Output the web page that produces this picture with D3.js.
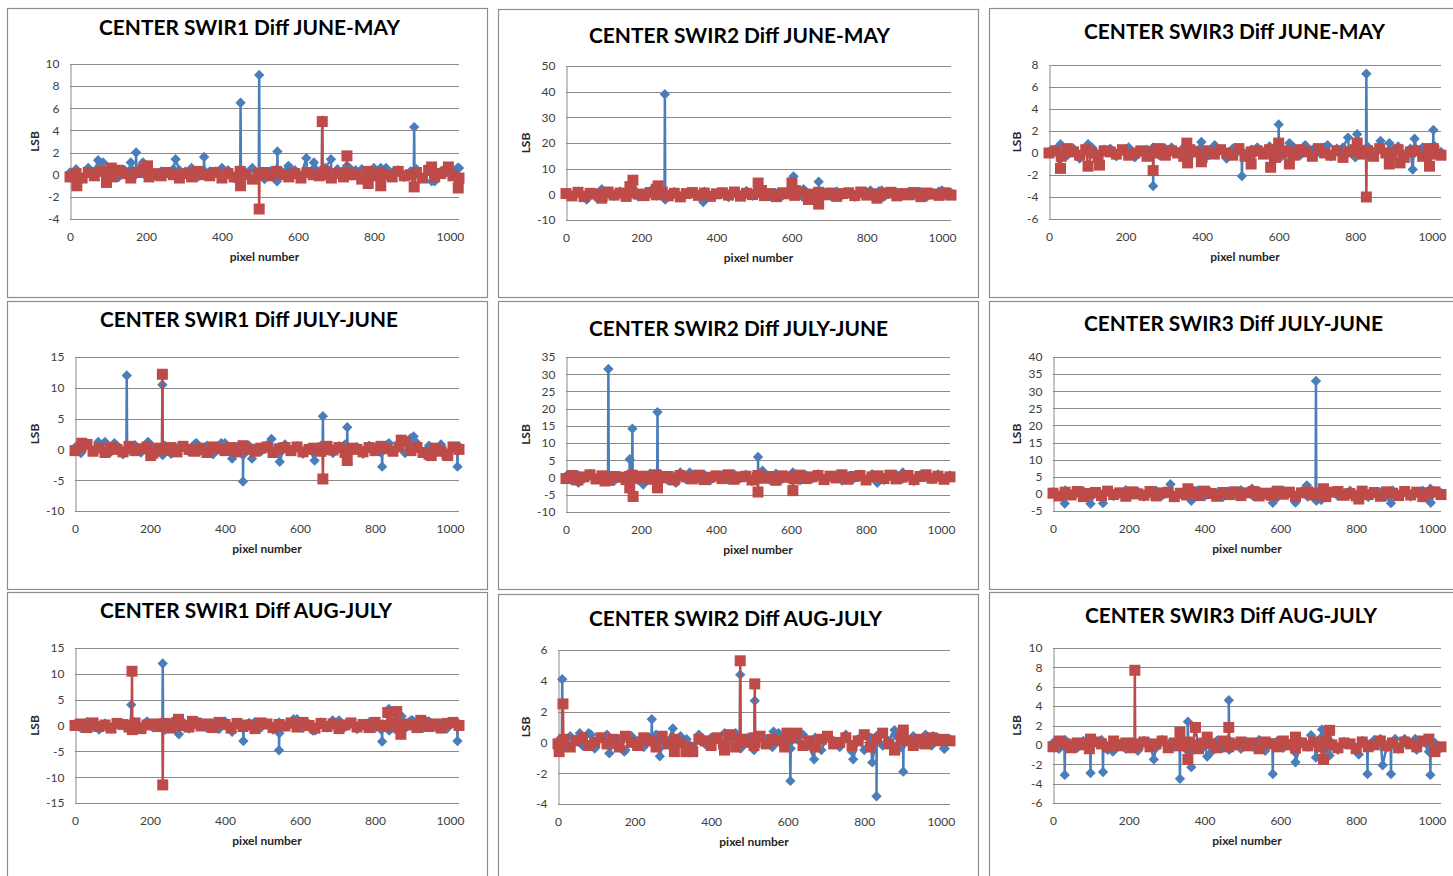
<!DOCTYPE html>
<html lang="en">
  <head>
    <title>CENTER SWIR Diff</title>
    <meta charset="utf-8" />
    <script src="https://d3js.org/d3.v7.min.js"></script>
    <style>
      body { margin: 0; background: #ffffff; }
    </style>
  </head>
  <body>
    <svg width="1453" height="876" xmlns="http://www.w3.org/2000/svg" id="target"></svg>
    <script>
        // x axis
        const xTicks = [0, 200, 400, 600, 800, 1000];
        const pixelMax = 1024;

        // y ticks per chart
        const yTicksSwir1JuneMay = [-4, -2, 0, 2, 4, 6, 8, 10];
        const yTicksSwir2JuneMay = [-10, 0, 10, 20, 30, 40, 50];
        const yTicksSwir3JuneMay = [-6, -4, -2, 0, 2, 4, 6, 8];
        const yTicksSwir1JulyJune = [-10, -5, 0, 5, 10, 15];
        const yTicksSwir2JulyJune = [-10, -5, 0, 5, 10, 15, 20, 25, 30, 35];
        const yTicksSwir3JulyJune = [-5, 0, 5, 10, 15, 20, 25, 30, 35, 40];
        const yTicksSwir1AugJuly = [-15, -10, -5, 0, 5, 10, 15];
        const yTicksSwir2AugJuly = [-4, -2, 0, 2, 4, 6];
        const yTicksSwir3AugJuly = [-6, -4, -2, 0, 2, 4, 6, 8, 10];

        // baseline values, one every 16 pixels (0..1024); peaks as [pixel, value]
        const swir1JuneMayBlue = [0.2,0.5,-0.3,0.6,0.3,0.4,0.1,0.2,-0.2,0.4,0.5,0.3,0.1,0.5,-0.1,0.3,0.2,0.5,0.4,0.3,0.6,-0.2,0.4,0.3,0.3,0.6,0.4,-0.3,0.5,0.2,0.6,0.1,-0.4,0.3,0.5,0.2,0.6,0.4,-0.1,0.3,0.5,0.3,0.6,0.2,0.5,-0.2,0.6,0.4,0.5,0.3,0.6,-0.3,0.6,0.2,0.4,-0.2,0.3,0.5,-0.3,0.4,-0.6,0.3,0.5,0.2,0.6];
        const swir1JuneMayBluePeaks = [[74,1.3],[87,1.1],[160,1.1],[173,0],[174,2.0],[175,0.1],[192,1.1],[278,1.4],[352,0],[353,1.6],[354,0.1],[448,0.2],[449,6.5],[450,0],[497,0.1],[498,9.0],[499,-0.1],[545,-0.6],[546,2.1],[547,0.2],[575,0.8],[622,1.5],[642,1.1],[663,0.2],[664,4.9],[665,0],[687,1.4],[729,0.8],[818,0.6],[905,0.1],[906,4.3],[907,0],[952,-0.6],[1020,0.6]];
        const swir1JuneMayRed = [-0.2,0.1,-0.3,0.2,-0.1,0.3,0,-0.2,0.4,0.1,-0.3,0.2,0.5,-0.2,0.1,-0.1,0.2,0,-0.3,0.1,-0.2,0.3,0,-0.1,0.2,-0.3,0.1,-0.2,0.3,0,-0.4,0.1,0.2,-0.1,0.3,0,-0.2,0.1,-0.3,0.2,0,-0.1,0.3,-0.3,0.1,-0.2,0.2,0,-0.4,0.3,-0.1,0.2,0,-0.2,0.3,-0.1,0,0.2,-0.3,0.4,-0.2,0.1,0.3,-0.1,-0.3];
        const swir1JuneMayRedPeaks = [[18,-1.0],[96,-0.7],[109,0.6],[204,0.8],[449,-1.0],[497,0],[498,-3.1],[499,0.1],[663,0],[664,4.8],[665,0.1],[728,0.2],[729,1.7],[730,0],[785,-0.8],[818,-1.0],[906,-1.1],[952,0.7],[996,0.7],[1022,-1.2]];

        const swir2JuneMayBlue = [0.5,-0.8,1.0,-0.5,0.3,-1.2,0.8,0.2,-0.6,1.1,-0.3,0.6,-0.9,0.4,1.2,-0.5,0.7,-0.2,0.9,-1.0,0.3,0.6,-0.4,1.0,-0.7,0.2,0.8,-1.1,0.5,-0.3,1.3,-0.6,0.4,0.9,-0.8,0.2,-0.5,1.0,0.6,-0.3,0.8,-0.9,0.3,0.5,-0.6,1.1,-0.2,0.7,-1.0,0.4,0.9,-0.4,1.2,-0.7,0.3,0.6,-0.5,1.0,-0.2,0.8,-0.9,0.4,1.1,-0.3,0.6];
        const swir2JuneMayBluePeaks = [[55,-2.0],[95,2.0],[262,-1.5],[263,39],[264,-2],[365,-3],[604,1],[605,7],[606,0],[632,2],[671,-1],[672,4.9],[673,0],[810,1.5],[840,1.5],[1000,1.5]];
        const swir2JuneMayRed = [0.3,-0.6,0.8,-0.9,0.4,0.2,-0.7,0.9,-0.3,0.5,-0.8,0.6,0.1,-0.5,0.7,-0.2,0.9,-0.6,0.4,-1.0,0.3,0.7,-0.4,0.5,-0.8,0.2,0.6,-0.3,0.9,-0.7,0.4,-0.1,0.8,-0.5,0.3,-0.9,0.6,0.2,-0.4,0.7,-0.6,0.1,0.8,-0.2,0.5,-0.8,0.3,0.6,-0.5,0.9,-0.3,0.2,-0.7,0.4,0.8,-0.6,0.3,-0.2,0.7,-0.9,0.5,0.1,-0.4,0.6,-0.3];
        const swir2JuneMayRedPeaks = [[95,-1.5],[170,3],[178,5.5],[240,2],[245,3.3],[511,4.4],[520,1.5],[601,4.4],[610,1.5],[645,-2],[672,-3.8],[827,-1.5]];

        const swir3JuneMayBlue = [0.1,0.3,0.6,-0.2,0.4,-0.5,0.2,0.5,-0.1,0.3,0.4,-0.3,0.2,0.5,-0.4,0.1,0.3,0.5,-0.2,0.4,0.5,0.1,0.5,-0.3,0.2,0.4,-0.2,0.6,0.3,-0.5,0.4,0.2,-0.1,0.3,0.5,0.1,0.4,0.6,-0.3,0.2,0.5,-0.2,0.6,0.3,0.1,0.5,-0.3,0.4,0.5,0.2,-0.4,0.3,0.6,0.1,0.5,-0.2,0.3,0.6,-0.1,0.4,0.3,0.5,-0.2,0.6,0.1];
        const swir3JuneMayBluePeaks = [[30,0.8],[102,0.8],[271,0],[272,-3.0],[273,0.2],[398,1.0],[433,0.7],[503,0.2],[504,-2.1],[505,0],[576,0.6],[599,0],[600,2.6],[601,0.2],[628,0.9],[669,0.7],[728,0.7],[781,1.4],[805,1.7],[828,0],[829,7.2],[830,0.3],[866,1.1],[889,0.9],[950,-1.5],[955,1.3],[1003,0.3],[1004,2.1],[1005,0]];
        const swir3JuneMayRed = [0,0.2,-0.3,0.4,0.1,-0.2,0.3,0,-0.4,0.2,0.1,-0.1,0.3,-0.2,0,0.2,-0.3,0.1,0.4,-0.2,0.2,0,-0.3,0.3,0.1,-0.4,0.2,-0.1,0.3,0,-0.2,0.4,-0.3,0.1,0.2,-0.1,0.3,-0.4,0,0.2,-0.2,0.3,0.1,-0.3,0.4,0,-0.2,0.2,-0.4,0.1,0.3,-0.1,0.2,-0.3,0.4,0,-0.2,0.3,-0.4,0.1,0.2,-0.3,0.4,-0.1,-0.2];
        const swir3JuneMayRedPeaks = [[30,-1.4],[102,-1.2],[132,-1.1],[271,0.1],[272,-1.6],[273,0],[360,0.9],[362,-0.9],[398,-0.8],[528,-1.0],[579,-1.3],[599,0.1],[600,0.9],[628,-1.0],[805,0.9],[828,0.1],[829,-4.0],[830,0],[889,-1.0],[917,-0.9],[994,-1.2],[1004,0.4]];

        const swir1JulyJuneBlue = [0.3,-0.6,0.8,-0.2,0.5,1.2,-0.4,0.6,-0.8,0.2,0.7,-0.5,1.0,0.4,-0.3,0.6,-0.7,0.2,0.5,-0.4,0.9,-0.2,0.6,-0.8,0.3,1.0,-0.5,0.4,-0.9,0.6,0.2,-0.3,0.7,-0.6,0.4,0.8,-0.2,0.5,-0.7,0.3,-0.4,0.6,0.2,-0.6,0.5,0.8,-0.3,0.4,-0.7,0.6,0.3,-0.5,0.7,-0.2,0.9,-0.6,0.4,1.0,-0.4,0.6,-0.3,0.8,-0.6,0.3,0.5];
        const swir1JulyJuneBluePeaks = [[62,1.2],[105,1.0],[137,0],[138,12.0],[139,-0.3],[195,1.2],[232,-0.8],[233,10.5],[234,-0.9],[324,1.0],[390,1.0],[419,-1.5],[447,0.2],[448,-5.2],[449,0],[472,-1.5],[524,1.7],[546,-2.0],[639,-1.8],[660,-0.5],[661,5.4],[662,0.3],[725,-0.3],[726,3.6],[727,0.4],[818,0.2],[819,-2.8],[820,0],[837,1.0],[895,1.8],[903,2.1],[1019,0.1],[1020,-2.8],[1021,0]];
        const swir1JulyJuneRed = [-0.2,0.4,0.8,-0.3,0.2,-0.5,0.3,0,-0.4,0.5,-0.2,0.1,0.4,-0.6,0.2,-0.1,0.3,-0.4,0.5,0,-0.3,0.2,-0.5,0.4,0.1,-0.2,0.3,-0.4,0.6,0,-0.3,0.2,0.4,-0.5,0.1,0.3,-0.2,0.4,-0.4,0,0.2,-0.3,0.5,-0.1,0.3,-0.5,0.2,0,-0.4,0.3,-0.2,0.5,0.1,-0.3,0.4,1.2,-0.2,0.3,-0.5,-0.8,0.2,-0.3,-0.8,0.4,0];
        const swir1JulyJuneRedPeaks = [[18,1.0],[202,-1.0],[232,0],[233,12.2],[234,0.1],[660,0.2],[661,-4.8],[662,0],[726,-1.8],[870,1.5],[950,-1.0],[994,-1.0]];

        const swir2JulyJuneBlue = [0.4,-0.9,0.7,-0.3,1.0,-0.6,0.2,0.8,-1.0,0.5,-0.2,0.9,-0.7,0.3,1.1,-0.4,0.6,-0.8,0.2,1.0,-0.5,0.7,-0.3,0.9,-0.9,0.4,0.6,-0.6,1.0,-0.2,0.8,-1.0,0.3,0.5,-0.7,1.1,-0.4,0.2,0.9,-0.8,0.6,-0.3,1.0,-0.5,0.4,0.7,-0.9,0.3,-0.2,0.8,-0.6,1.0,0.2,-0.7,0.5,0.9,-0.4,0.3,-1.0,0.7,0.2,-0.5,0.9,-0.3,0.6];
        const swir2JulyJuneBluePeaks = [[33,-1.5],[112,-0.5],[113,31.5],[114,0.3],[169,0.2],[170,5.3],[176,-0.5],[177,14.2],[178,0],[206,-2.0],[243,0.5],[244,19],[245,-0.3],[293,-1.5],[305,1.5],[330,1.5],[511,0.5],[512,6.0],[513,0.2],[524,2.0],[605,1.5],[830,-1.5],[898,1.5]];
        const swir2JulyJuneRed = [-0.3,0.6,-0.7,0.2,0.8,-0.4,0.5,-0.8,0.3,0.1,-0.6,0.7,-0.2,0.4,-0.5,0.8,-0.1,0.3,-0.7,0.6,0.2,-0.4,0.7,-0.6,0.1,0.5,-0.3,0.8,-0.5,0.2,0.4,-0.7,0.6,-0.2,0.3,-0.8,0.5,0.1,-0.4,0.7,-0.3,0.2,0.6,-0.6,0.4,-0.1,0.8,-0.5,0.3,0.6,-0.7,0.2,0.5,-0.3,0.7,-0.4,0.1,0.6,-0.6,0.3,0.8,-0.2,0.4,-0.5,0.2];
        const swir2JulyJuneRedPeaks = [[104,-1.0],[169,0.3],[170,-3.0],[171,0],[178,0.5],[179,-5.5],[180,0.2],[243,0],[244,-3.0],[245,0.3],[511,0],[512,-4.2],[513,0.4],[604,0],[605,-3.8],[606,0.2]];

        const swir3JulyJuneBlue = [0.5,-0.7,1.0,-0.4,0.3,0.8,-0.9,0.6,-0.2,0.9,-0.6,0.4,1.1,-0.3,0.7,-0.8,0.2,0.9,-0.5,0.6,-1.0,0.3,0.8,-0.4,1.0,-0.7,0.5,0.2,-0.9,0.7,-0.3,1.1,0.4,-0.6,0.8,-0.2,0.5,-1.0,0.9,0.3,-0.5,0.7,-0.8,0.4,1.0,-0.3,0.6,-0.6,0.2,0.9,-0.4,0.8,-0.9,0.5,0.3,-0.7,1.0,-0.2,0.6,-0.8,0.4,0.9,-0.5,0.7,0.3];
        const swir3JulyJuneBluePeaks = [[31,-2.8],[99,-2.9],[132,-2.7],[310,2.8],[365,-2.0],[525,1.5],[580,-2.6],[640,-2.5],[670,2.5],[693,-0.5],[694,33],[695,-2.0],[708,-1.8],[892,-2.7],[996,1.5],[997,-2.6]];
        const swir3JulyJuneRed = [0.2,-0.6,0.5,-0.3,0.7,-0.8,0.1,0.4,-0.5,0.8,-0.2,0.3,-0.7,0.6,0,-0.4,0.7,-0.6,0.3,0.5,-0.8,0.2,-0.3,0.6,-0.5,0.8,0.1,-0.7,0.4,-0.2,0.6,-0.5,0.3,0.7,-0.6,0.2,-0.4,0.8,-0.1,0.5,-0.7,0.3,0.6,-0.3,0.2,-0.8,0.5,0.7,-0.4,0.1,-0.6,0.8,-0.2,0.4,-0.7,0.6,0.2,-0.5,0.7,-0.3,0.5,-0.8,0.3,0.6,-0.2];
        const swir3JulyJuneRedPeaks = [[356,1.5],[714,1.5],[807,-1.5]];

        const swir1AugJulyBlue = [0.3,-0.5,0.7,-0.2,-0.8,0.4,-0.6,0.5,0.2,-0.7,0.6,-0.3,0.8,-0.4,0.2,-0.8,0.5,-0.2,0.7,-0.6,0.3,0.6,-0.5,0.4,-0.7,0.8,-0.3,0.2,-0.6,0.5,0.7,-0.4,0.3,-0.8,0.6,-0.2,0.4,1.2,-0.5,0.3,-1.0,0.6,-0.4,0.7,1.0,-0.3,0.5,-0.7,0.2,0.6,-0.5,-0.8,0.4,-0.3,0.7,-0.6,1.0,0.3,-0.5,0.8,-0.2,0.4,-0.6,0.5,0.3];
        const swir1AugJulyBluePeaks = [[149,0.2],[150,4.0],[151,-0.4],[233,-0.5],[234,12],[235,0.2],[277,-1.7],[419,-1.2],[448,0.2],[449,-3.0],[450,0],[543,-0.2],[544,-4.8],[545,-1.5],[583,1.2],[634,-1.0],[687,1.0],[818,0],[819,-3.1],[820,0.3],[836,0],[837,3.2],[838,-1.0],[871,1.8],[900,1.0],[1019,0],[1020,-3.0],[1021,0.2]];
        const swir1AugJulyRed = [0,0.3,-0.4,0.5,-0.2,0.1,-0.5,0.4,0.2,-0.3,0.5,-0.6,0.1,0.3,-0.2,0.4,-0.5,0.6,0,-0.3,0.5,-0.1,0.3,-0.4,0.6,0.2,-0.5,0.4,-0.2,0.1,-0.6,0.5,0.3,-0.4,0.2,-0.1,0.5,-0.3,0.6,0,-0.5,0.4,-0.2,0.3,-0.6,0.1,0.5,-0.3,0.2,-0.4,0.6,0,-0.2,0.4,-0.5,0.3,0.1,-0.4,0.6,-0.2,0.3,-0.5,0.4,0.6,0];
        const swir1AugJulyRedPeaks = [[151,0],[152,10.5],[153,-0.8],[233,0.1],[234,-11.5],[235,0.3],[276,1.2],[313,0.8],[834,2.5],[858,2.7],[869,-1.7],[922,1.0]];

        const swir2AugJulyBlue = [0.1,-0.3,0.4,0.2,-0.2,0.6,-0.4,0.3,0.5,-0.1,0.2,-0.5,0.4,0.1,-0.3,0.3,0.5,-0.2,0.1,-0.4,0.4,0.2,-0.3,0.5,-0.1,0.3,0.2,-0.4,0.1,0.6,-0.2,0.3,-0.5,0.4,0.2,-0.3,0.6,0.1,-0.4,0.2,0.5,-0.2,0.3,-0.5,0.4,0.1,-0.3,0.5,-0.6,0.2,-0.5,0.3,0.4,-0.2,0.1,0.5,-0.3,0.2,0.4,-0.1,0.5,-0.2,0.3,-0.4,0.2];
        const swir2AugJulyBluePeaks = [[10,0],[11,4.1],[12,0.2],[57,0.6],[86,0.5],[134,-0.7],[173,-0.6],[244,0],[245,1.5],[246,0.1],[266,-0.9],[300,0.9],[435,0.6],[475,-0.3],[476,4.4],[477,-0.4],[513,0.1],[514,2.7],[515,-0.2],[563,0.7],[606,0],[607,-2.5],[608,0.1],[669,-1.1],[771,-1.1],[821,-1.3],[831,0.2],[832,-3.5],[833,0.4],[879,0.8],[901,0.1],[902,-1.9],[903,0],[980,0.4],[1010,-0.4]];
        const swir2AugJulyRed = [-0.1,0.2,-0.3,0.1,0.3,-0.2,0,0.3,-0.1,0.2,-0.3,0.4,0,-0.2,0.3,0.1,-0.3,0.4,-0.1,0.2,0,-0.3,-0.6,0.2,0.1,-0.2,0.3,-0.1,0.5,-0.3,0.2,0,-0.2,0.4,-0.1,0.2,0.1,-0.3,0.3,0.6,-0.2,0.1,-0.3,0.2,0.4,-0.1,0,0.3,-0.2,0.1,0.5,-0.3,0.2,0.6,-0.1,-0.4,0.3,0.1,-0.2,0.2,-0.1,0.3,0.1,0.2,0.1];
        const swir2AugJulyRedPeaks = [[3,-0.6],[12,0],[13,2.5],[14,0.1],[304,-0.6],[334,-0.6],[435,-0.5],[475,0],[476,5.3],[477,0.2],[513,0.3],[514,3.8],[515,0],[598,0.6],[879,-0.5],[902,0.8]];

        const swir3AugJulyBlue = [0.2,-0.4,0.5,0.1,-0.3,0.4,-0.2,0.3,0.5,-0.5,0.2,0.1,-0.4,0.3,-0.6,0.4,0.2,-0.3,0.5,0.1,-0.2,0.4,-0.5,0.3,0.2,-0.1,-0.8,0.4,-0.3,0.5,0.1,-0.4,0.3,-0.2,0.5,-0.6,0.2,0.4,-0.3,0.1,-0.8,0.3,-0.2,0.5,0.6,-0.4,0.2,-0.5,0.3,0.1,-0.3,0.4,-0.2,0.5,0.6,-0.3,0.2,-0.4,0.6,0.1,-0.5,0.3,-0.7,0.2,-0.3];
        const swir3AugJulyBluePeaks = [[30,0.2],[31,-3.1],[32,0],[98,0.1],[99,-2.9],[100,0.3],[131,0],[132,-2.8],[133,0.2],[158,-0.7],[266,-1.5],[334,0.2],[335,-3.5],[336,0],[355,-0.2],[356,2.4],[357,0.1],[365,-2.3],[407,-1.2],[463,0.2],[464,4.6],[465,-0.5],[579,0],[580,-3.0],[581,0.2],[640,-1.8],[681,1.0],[694,-1.3],[710,1.6],[730,-1.1],[807,-1.0],[829,0.1],[830,-3.0],[831,0],[870,-2.1],[891,0.2],[892,-3.0],[893,0],[903,0.6],[956,0.6],[995,0],[996,-3.1],[997,0.2]];
        const swir3AugJulyRed = [-0.2,0.4,0.1,-0.3,0.2,0,-0.4,0.3,0.1,-0.2,0.4,-0.1,0.2,-0.3,0,0.3,-0.2,0.1,0.4,-0.3,0.2,-0.1,0.3,0,-0.4,0.2,0.1,-0.3,0.4,-0.2,0,0.3,-0.1,0.2,-0.4,0.3,0.1,-0.2,0.4,0,-0.3,0.2,-0.1,0.3,-0.2,0.4,0,-0.3,0.2,0.1,-0.4,0.3,-0.2,0,0.4,-0.1,0.2,-0.3,0.3,0.1,-0.2,0.4,0.6,-0.7,-0.2];
        const swir3AugJulyRedPeaks = [[99,0.6],[215,0],[216,7.7],[217,0.1],[335,1.3],[356,-1.5],[376,1.8],[407,0.8],[463,0],[464,1.8],[465,0.2],[640,0.8],[714,-1.5],[730,1.5]];

        const titles = [
          "CENTER SWIR1 Diff JUNE-MAY", "CENTER SWIR2 Diff JUNE-MAY", "CENTER SWIR3 Diff JUNE-MAY",
          "CENTER SWIR1 Diff JULY-JUNE", "CENTER SWIR2 Diff JULY-JUNE", "CENTER SWIR3 Diff JULY-JUNE",
          "CENTER SWIR1 Diff AUG-JULY", "CENTER SWIR2 Diff AUG-JULY", "CENTER SWIR3 Diff AUG-JULY"
        ];

        const charts = [
          {yTicks: yTicksSwir1JuneMay, blue: swir1JuneMayBlue, bluePeaks: swir1JuneMayBluePeaks, red: swir1JuneMayRed, redPeaks: swir1JuneMayRedPeaks},
          {yTicks: yTicksSwir2JuneMay, blue: swir2JuneMayBlue, bluePeaks: swir2JuneMayBluePeaks, red: swir2JuneMayRed, redPeaks: swir2JuneMayRedPeaks},
          {yTicks: yTicksSwir3JuneMay, blue: swir3JuneMayBlue, bluePeaks: swir3JuneMayBluePeaks, red: swir3JuneMayRed, redPeaks: swir3JuneMayRedPeaks},
          {yTicks: yTicksSwir1JulyJune, blue: swir1JulyJuneBlue, bluePeaks: swir1JulyJuneBluePeaks, red: swir1JulyJuneRed, redPeaks: swir1JulyJuneRedPeaks},
          {yTicks: yTicksSwir2JulyJune, blue: swir2JulyJuneBlue, bluePeaks: swir2JulyJuneBluePeaks, red: swir2JulyJuneRed, redPeaks: swir2JulyJuneRedPeaks},
          {yTicks: yTicksSwir3JulyJune, blue: swir3JulyJuneBlue, bluePeaks: swir3JulyJuneBluePeaks, red: swir3JulyJuneRed, redPeaks: swir3JulyJuneRedPeaks},
          {yTicks: yTicksSwir1AugJuly, blue: swir1AugJulyBlue, bluePeaks: swir1AugJulyBluePeaks, red: swir1AugJulyRed, redPeaks: swir1AugJulyRedPeaks},
          {yTicks: yTicksSwir2AugJuly, blue: swir2AugJulyBlue, bluePeaks: swir2AugJulyBluePeaks, red: swir2AugJulyRed, redPeaks: swir2AugJulyRedPeaks},
          {yTicks: yTicksSwir3AugJuly, blue: swir3AugJulyBlue, bluePeaks: swir3AugJulyBluePeaks, red: swir3AugJulyRed, redPeaks: swir3AugJulyRedPeaks}
        ];

        // panel frame, plot area and title placement
        const layouts = [
          {fx:7.5,   fy:8.5,   fw:480, fh:289, pl:70,   pt:64,  pr:459,  pb:219, tx:249.5,  ty:35,  tw:301},
          {fx:498.5, fy:9.5,   fw:480, fh:288, pl:566,  pt:66,  pr:951,  pb:220, tx:739.5,  ty:43,  tw:301},
          {fx:989.5, fy:8.5,   fw:490, fh:289, pl:1049, pt:65,  pr:1441, pb:219, tx:1234.5, ty:39,  tw:301},
          {fx:7.5,   fy:301.5, fw:480, fh:288, pl:75,   pt:357, pr:459,  pb:511, tx:249,    ty:327, tw:298},
          {fx:498.5, fy:301.5, fw:480, fh:288, pl:566,  pt:357, pr:950,  pb:512, tx:738.5,  ty:336, tw:299},
          {fx:989.5, fy:301.5, fw:490, fh:288, pl:1053, pt:357, pr:1441, pb:511, tx:1233.5, ty:331, tw:299},
          {fx:7.5,   fy:592.5, fw:480, fh:300, pl:75,   pt:648, pr:459,  pb:803, tx:246,    ty:618, tw:292},
          {fx:498.5, fy:594.5, fw:480, fh:300, pl:558,  pt:650, pr:950,  pb:804, tx:735.5,  ty:626, tw:293},
          {fx:989.5, fy:592.5, fw:490, fh:300, pl:1053, pt:648, pr:1441, pb:803, tx:1231,   ty:623, tw:292}
        ];

        const style = {
          blue: "#4a7ebb",
          red: "#be4b48",
          grid: "#8a8a8a",
          frame: "#8c8c8c",
          font: "Lato, 'Open Sans', sans-serif"
        };

        function toPoints(base, peaks){
          const step = pixelMax / (base.length - 1);
          return base.map((v, i) => [i * step, v])
            .concat(peaks)
            .sort((a, b) => a[0] - b[0]);
        }

        const svg = d3.select("#target");

        charts.forEach((c, i) => {
          const L = layouts[i];
          const g = svg.append("g").attr("class", "panel");

          g.append("rect")
            .attr("x", L.fx).attr("y", L.fy)
            .attr("width", L.fw).attr("height", L.fh)
            .attr("fill", "#ffffff")
            .attr("stroke", style.frame)
            .attr("stroke-width", 1.2)
          ;

          const x = d3.scaleLinear().domain([0, pixelMax]).range([L.pl, L.pr]);
          const y = d3.scaleLinear().domain(d3.extent(c.yTicks)).range([L.pb, L.pt]);

          // gridlines
          g.selectAll("line.grid")
            .data(c.yTicks)
            .enter()
            .append("line")
            .attr("class", "grid")
            .attr("x1", L.pl).attr("x2", L.pr)
            .attr("y1", d => Math.round(y(d)) + 0.5)
            .attr("y2", d => Math.round(y(d)) + 0.5)
            .attr("stroke", style.grid)
            .attr("stroke-width", 1)
          ;

          // y axis
          const ya = g.append("g")
            .attr("transform", `translate(${L.pl + 0.5},0)`)
            .call(d3.axisLeft(y).tickValues(c.yTicks).tickSize(0).tickPadding(11).tickFormat(d => String(d)))
            .attr("font-family", style.font)
            .attr("font-size", 12)
          ;
          ya.select(".domain").attr("stroke", style.grid);
          ya.selectAll("text").attr("fill", "#404040");

          // x axis labels
          const xa = g.append("g")
            .attr("transform", `translate(0,${L.pb})`)
            .call(d3.axisBottom(x).tickValues(xTicks).tickSize(0).tickPadding(13).tickFormat(d => String(d)))
            .attr("font-family", style.font)
            .attr("font-size", 12)
          ;
          xa.select(".domain").remove();
          xa.selectAll("text").attr("fill", "#404040");

          // titles
          g.append("text")
            .attr("x", L.tx).attr("y", L.ty)
            .attr("text-anchor", "middle")
            .attr("font-family", style.font)
            .attr("font-weight", 700)
            .attr("font-size", 21)
            .attr("fill", "#000000")
            .attr("textLength", L.tw)
            .attr("lengthAdjust", "spacingAndGlyphs")
            .text(titles[i])
          ;
          g.append("text")
            .attr("x", (L.pl + L.pr) / 2).attr("y", L.pb + 42)
            .attr("text-anchor", "middle")
            .attr("font-family", style.font)
            .attr("font-weight", 700)
            .attr("font-size", 12)
            .attr("fill", "#262626")
            .text("pixel number")
          ;
          g.append("text")
            .attr("transform", `translate(${L.fx + 31},${(L.pt + L.pb) / 2}) rotate(-90)`)
            .attr("text-anchor", "middle")
            .attr("font-family", style.font)
            .attr("font-weight", 700)
            .attr("font-size", 12)
            .attr("fill", "#262626")
            .text("LSB")
          ;

          // series: blue diamonds first, red squares on top
          const line = d3.line().x(d => x(d[0])).y(d => y(d[1]));
          const series = [
            {pts: toPoints(c.blue, c.bluePeaks), color: style.blue, marker: "M0,-5.2L5.2,0L0,5.2L-5.2,0Z"},
            {pts: toPoints(c.red, c.redPeaks), color: style.red, marker: "M-5.5,-5.5H5.5V5.5H-5.5Z"}
          ];
          series.forEach(s => {
            g.append("path")
              .datum(s.pts)
              .attr("d", line)
              .attr("fill", "none")
              .attr("stroke", s.color)
              .attr("stroke-width", 2.5)
              .attr("stroke-linejoin", "round")
            ;
            g.append("g")
              .selectAll("path")
              .data(s.pts)
              .enter()
              .append("path")
              .attr("transform", d => `translate(${x(d[0])},${y(d[1])})`)
              .attr("d", s.marker)
              .attr("fill", s.color)
            ;
          });
        });
    </script>
</body>
</html>
